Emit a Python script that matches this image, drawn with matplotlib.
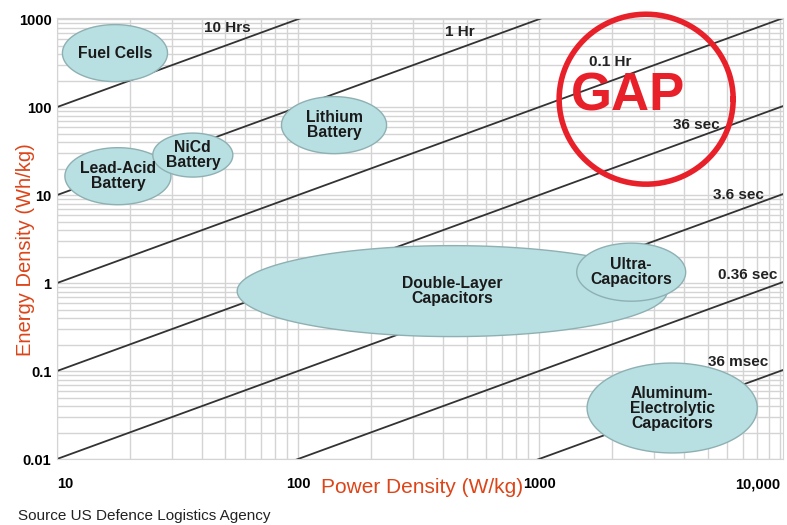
import numpy as np
import matplotlib
matplotlib.use("Agg")
import matplotlib.pyplot as plt

plt.rcParams['font.family'] = ['Liberation Sans', 'DejaVu Sans']

# constant discharge-time lines, E = P * t (t in hours)
line_hours = [10, 1, 0.1, 0.01, 0.001, 0.0001, 0.00001]
line_labels = ['10 Hrs', '1 Hr', '0.1 Hr', '36 sec', '3.6 sec', '0.36 sec', '36 msec']
label_x = [51, 470, 1970, 4500, 6700, 7360, 6700]
label_y = [790, 710, 324, 63, 10, 1.23, 0.126]

# technology regions: centre (W/kg, Wh/kg) and half-size in decades
tech_names = ['Fuel Cells', 'Lead-Acid\nBattery', 'NiCd\nBattery', 'Lithium\nBattery',
              'Double-Layer\nCapacitors', 'Ultra-\nCapacitors',
              'Aluminum-\nElectrolytic\nCapacitors']
tech_power = [17.4, 17.9, 36.6, 141, 436, 2410, 3565]
tech_energy = [411, 16.4, 28.5, 62.4, 0.81, 1.33, 0.038]
tech_rx = [0.218, 0.22, 0.166, 0.218, 0.892, 0.226, 0.353]
tech_ry = [0.324, 0.324, 0.25, 0.324, 0.517, 0.33, 0.511]

x_ticks = [10, 100, 1000, 10000]
x_ticklabels = ['10', '100', '1000', '10,000']
y_ticks = [0.01, 0.1, 1, 10, 100, 1000]
y_ticklabels = ['0.01', '0.1', '1', '10', '100', '1000']

# the "GAP" circle
gap_x, gap_y = 2780, 123
gap_rx, gap_ry = 0.361, 0.966

fig = plt.figure(figsize=(7.87, 5.25), dpi=100)
ax = fig.add_axes([0.0724, 0.1257, 0.9226, 0.84])
ax.set_xscale('log')
ax.set_yscale('log')
ax.set_xlim(10, 10280)
ax.set_ylim(0.01, 1030)

ax.grid(True, which='both', color='#d4d4d4', lw=1.0)
ax.set_axisbelow(True)
for s in ax.spines.values():
    s.set_color('#d4d4d4')
ax.tick_params(which='both', length=0)

# time lines
p = np.array([10, 10280.0])
for t in line_hours:
    ax.plot(p, p * t, color='#333333', lw=1.3, zorder=2)
for lab, lx, ly in zip(line_labels, label_x, label_y):
    ax.text(lx, ly, lab, ha='center', va='center', fontsize=11,
            fontweight='bold', color='#222222', zorder=6)

# ellipses drawn in log space
th = np.linspace(0, 2 * np.pi, 200)
for name, cx, cy, rx, ry in zip(tech_names, tech_power, tech_energy, tech_rx, tech_ry):
    ex = 10 ** (np.log10(cx) + rx * np.cos(th))
    ey = 10 ** (np.log10(cy) + ry * np.sin(th))
    ax.fill(ex, ey, facecolor='#b8dfe2', edgecolor='#8fb0b2', lw=1.0, zorder=3)
    ax.text(cx, cy, name, ha='center', va='center', fontsize=11.3,
            fontweight='bold', color='#1a1a1a', linespacing=1.0, zorder=4)

cx = 10 ** (np.log10(gap_x) + gap_rx * np.cos(th))
cy = 10 ** (np.log10(gap_y) + gap_ry * np.sin(th))
ax.plot(cx, cy, color='#e8202a', lw=4, zorder=5, clip_on=False)
ax.text(2330, 132, 'GAP', ha='center', va='center', fontsize=38,
        fontweight='bold', color='#e8202a', zorder=5)

ax.set_xticks(x_ticks)
ax.set_xticklabels(x_ticklabels, fontsize=10.5, fontweight='bold')
ax.set_yticks(y_ticks)
ax.set_yticklabels(y_ticklabels, fontsize=10.5, fontweight='bold')
ax.minorticks_on()
ax.tick_params(which='minor', labelbottom=False, labelleft=False, length=0)
xl = ax.get_xticklabels()
xl[0].set_ha('left')
xl[-1].set_ha('right')
ax.tick_params(axis='x', pad=13)
ax.tick_params(axis='y', pad=4)

fig.text(0.033, 0.524, 'Energy Density (Wh/kg)', rotation=90, ha='center', va='center',
         fontsize=14.5, color='#dd4418')
fig.text(0.536, 0.072, 'Power Density (W/kg)', ha='center', va='center',
         fontsize=15, color='#dd4418')
fig.text(0.023, 0.017, 'Source US Defence Logistics Agency', ha='left', va='center',
         fontsize=11, color='#222222')

fig.savefig('out.png', dpi=100)
